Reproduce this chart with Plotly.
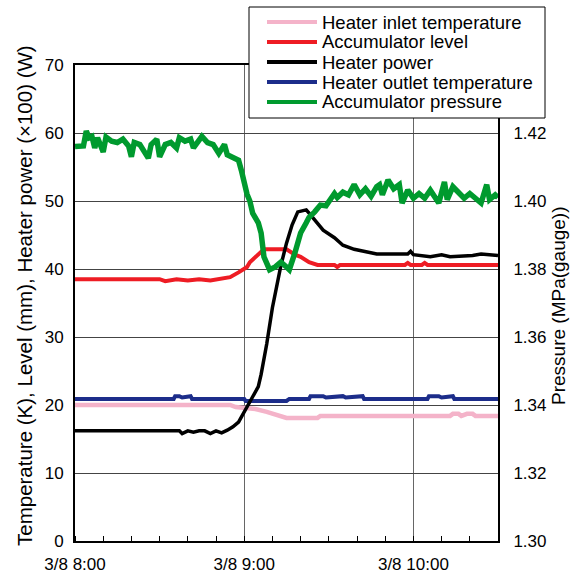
import plotly.graph_objects as go

# ---- data (time in minutes after 3/8 8:00) ----
tick_vals = [0, 60, 120]
tick_text = ["3/8 8:00", "3/8 9:00", "3/8 10:00"]
p_tick_vals = [1.30, 1.32, 1.34, 1.36, 1.38, 1.40, 1.42]

series_names = ["Heater inlet temperature", "Accumulator level", "Heater power",
                "Heater outlet temperature", "Accumulator pressure"]
series_colors = ["#F4B3C9", "#EE1C24", "#000000", "#1C2D8A", "#009A2E"]

inlet_t = [0, 55, 57, 61, 64, 68, 72, 75, 86, 87, 133, 134, 136, 137, 139, 141, 142, 150]
inlet_v = [20.0, 20.0, 19.7, 19.6, 19.4, 19.0, 18.5, 18.1, 18.1, 18.4, 18.4, 18.7, 18.7, 18.4, 18.7, 18.7, 18.4, 18.4]

outlet_t = [0, 35, 35.5, 37, 38, 41, 41.5, 60, 60.5, 75, 76, 83, 83.5, 88, 89, 95, 96, 102, 102.5, 125, 125.5, 129, 130, 134, 134.5, 150]
outlet_v = [20.9, 20.9, 21.3, 21.3, 21.1, 21.3, 20.9, 20.9, 20.6, 20.6, 20.9, 20.9, 21.3, 21.3, 21.1, 21.3, 21.1, 21.3, 20.9, 20.9, 21.3, 21.3, 21.1, 21.3, 20.9, 20.9]

level_t = [0, 30, 32, 36, 40, 44, 48, 52, 55, 58, 61, 62, 65, 67, 75, 78, 80, 83, 86, 92, 93, 94, 117, 118, 119, 123, 124, 125, 150]
level_v = [38.5, 38.5, 38.2, 38.5, 38.3, 38.5, 38.3, 38.6, 38.8, 39.5, 40.3, 41.0, 42.2, 42.9, 42.9, 42.1, 41.8, 41.0, 40.6, 40.6, 40.3, 40.6, 40.6, 40.9, 40.6, 40.6, 40.9, 40.6, 40.6]

power_t = [0, 37, 38, 40, 42, 44, 46, 48, 50, 52, 54, 56, 58, 60, 62, 65, 66, 68, 70, 72, 73, 75, 77, 79, 82, 83, 85, 88, 92, 95, 99, 104, 107, 118, 119, 120, 126, 130, 133, 141, 144, 150]
power_v = [16.2, 16.2, 15.8, 16.2, 16.0, 16.2, 16.2, 15.8, 16.2, 15.9, 16.3, 16.8, 17.5, 19.0, 20.7, 22.7, 24.5, 29.0, 34.3, 38.6, 40.5, 43.8, 46.5, 48.4, 48.7, 48.2, 47.2, 45.7, 44.6, 43.5, 42.9, 42.5, 42.2, 42.2, 42.6, 42.1, 41.8, 42.1, 41.8, 42.0, 42.2, 42.0]

press_t = [0, 1, 3, 4, 5, 6, 7, 8, 10, 11, 13, 15, 17, 19, 20, 21, 23, 26, 27, 29, 30, 32, 34, 36, 37, 39, 41, 42, 44, 45, 47, 49, 51, 53, 54, 56, 58, 59, 60, 61, 62, 63, 65, 66, 67, 69, 71, 73, 75, 76, 78, 80, 82, 83, 85, 87, 89, 91, 92, 93, 95, 97, 99, 101, 103, 105, 107, 108, 109, 111, 113, 115, 116, 118, 120, 122, 124, 126, 129, 131, 132, 134, 136, 138, 140, 142, 144, 146, 147, 149, 150]
press_v = [1.416, 1.416, 1.4162, 1.4206, 1.4186, 1.419, 1.4156, 1.4186, 1.4144, 1.4188, 1.4176, 1.4172, 1.4182, 1.4162, 1.413, 1.4172, 1.4166, 1.4126, 1.4166, 1.4182, 1.413, 1.4166, 1.4172, 1.4156, 1.4186, 1.4176, 1.4182, 1.4156, 1.4176, 1.419, 1.4172, 1.4166, 1.414, 1.4166, 1.4136, 1.413, 1.412, 1.409, 1.405, 1.402, 1.400, 1.3964, 1.3936, 1.3906, 1.3836, 1.3798, 1.3806, 1.382, 1.3806, 1.3798, 1.3848, 1.3906, 1.3936, 1.3952, 1.3968, 1.3988, 1.3986, 1.4008, 1.4022, 1.401, 1.4026, 1.4018, 1.4048, 1.4018, 1.4036, 1.4014, 1.4042, 1.4048, 1.4018, 1.4062, 1.4036, 1.4048, 1.3994, 1.4032, 1.4008, 1.4022, 1.4008, 1.4032, 1.3994, 1.4056, 1.4004, 1.4042, 1.4022, 1.4008, 1.4022, 1.4008, 1.3994, 1.4048, 1.4004, 1.4018, 1.401]

FONT = "Liberation Sans, Arial, sans-serif"
W, H = 576, 574
ML, MR, MT, MB = 75, 78, 65, 33
PW, PH = W - ML - MR, H - MT - MB


def px(x):
    return (x - ML) / PW


def py(y):
    return (H - MB - y) / PH


fig = go.Figure()
fig.add_trace(go.Scatter(x=inlet_t, y=inlet_v, name=series_names[0], mode="lines",
                         line=dict(color=series_colors[0], width=4.5)))
fig.add_trace(go.Scatter(x=outlet_t, y=outlet_v, name=series_names[3], mode="lines",
                         line=dict(color=series_colors[3], width=4)))
fig.add_trace(go.Scatter(x=level_t, y=level_v, name=series_names[1], mode="lines",
                         line=dict(color=series_colors[1], width=4)))
fig.add_trace(go.Scatter(x=power_t, y=power_v, name=series_names[2], mode="lines",
                         line=dict(color=series_colors[2], width=3.5)))
fig.add_trace(go.Scatter(x=press_t, y=press_v, name=series_names[4], mode="lines",
                         line=dict(color=series_colors[4], width=5.5), yaxis="y2"))

# manual legend box (positioned like the original)
shapes = [dict(type="rect", xref="paper", yref="paper",
               x0=px(249), x1=px(545), y0=py(118), y1=py(7),
               fillcolor="white", line=dict(color="black", width=1), layer="above")]
annotations = []
for i, (nm, col) in enumerate(zip(series_names, series_colors)):
    yy = 22 + 20 * i
    shapes.append(dict(type="line", xref="paper", yref="paper",
                       x0=px(267), x1=px(317), y0=py(yy), y1=py(yy),
                       line=dict(color=col, width=4), layer="above"))
    annotations.append(dict(text=nm, xref="paper", yref="paper", x=px(320), y=py(yy),
                            xanchor="left", yanchor="middle", showarrow=False,
                            font=dict(family=FONT, size=18.5, color="black")))

# axis titles
annotations.append(dict(text="Temperature (K), Level (mm), Heater power (×100) (W)",
                        xref="paper", yref="paper", x=px(24), y=py(296), textangle=-90,
                        xanchor="center", yanchor="middle", showarrow=False,
                        font=dict(family=FONT, size=20.5, color="black")))
annotations.append(dict(text="Pressure (MPa(gauge))",
                        xref="paper", yref="paper", x=px(558), y=py(306), textangle=-90,
                        xanchor="center", yanchor="middle", showarrow=False,
                        font=dict(family=FONT, size=19, color="black")))

fig.update_layout(
    width=W, height=H,
    margin=dict(l=ML, r=MR, t=MT, b=MB, autoexpand=False),
    paper_bgcolor="white", plot_bgcolor="white",
    font=dict(family=FONT, size=17, color="black"),
    showlegend=False,
    shapes=shapes, annotations=annotations,
    xaxis=dict(range=[0, 150], tickmode="array", tickvals=tick_vals, ticktext=tick_text,
               showgrid=True, gridcolor="#666", gridwidth=1, ticks="",
               showline=True, linecolor="black", linewidth=2, mirror=True,
               zeroline=False, ticklabelstandoff=7,
               minor=dict(tickmode="linear", tick0=0, dtick=10, ticks="inside", ticklen=5,
                          tickcolor="black", tickwidth=1, showgrid=False)),
    yaxis=dict(range=[0, 70], dtick=10, showgrid=True, gridcolor="#444", gridwidth=1,
               showline=True, linecolor="black", linewidth=2, zeroline=False, ticks="",
               ticklabelstandoff=6),
    yaxis2=dict(range=[1.30, 1.44], tickmode="array", tickvals=p_tick_vals,
                tickformat=".2f", overlaying="y", side="right", showgrid=False,
                showline=True, linecolor="black", linewidth=2, zeroline=False, ticks="",
                ticklabelstandoff=10),
)

fig.write_html("out.html", config={"displayModeBar": False, "staticPlot": True},
               post_script="document.body.style.margin='0';document.body.style.overflow='hidden';")
